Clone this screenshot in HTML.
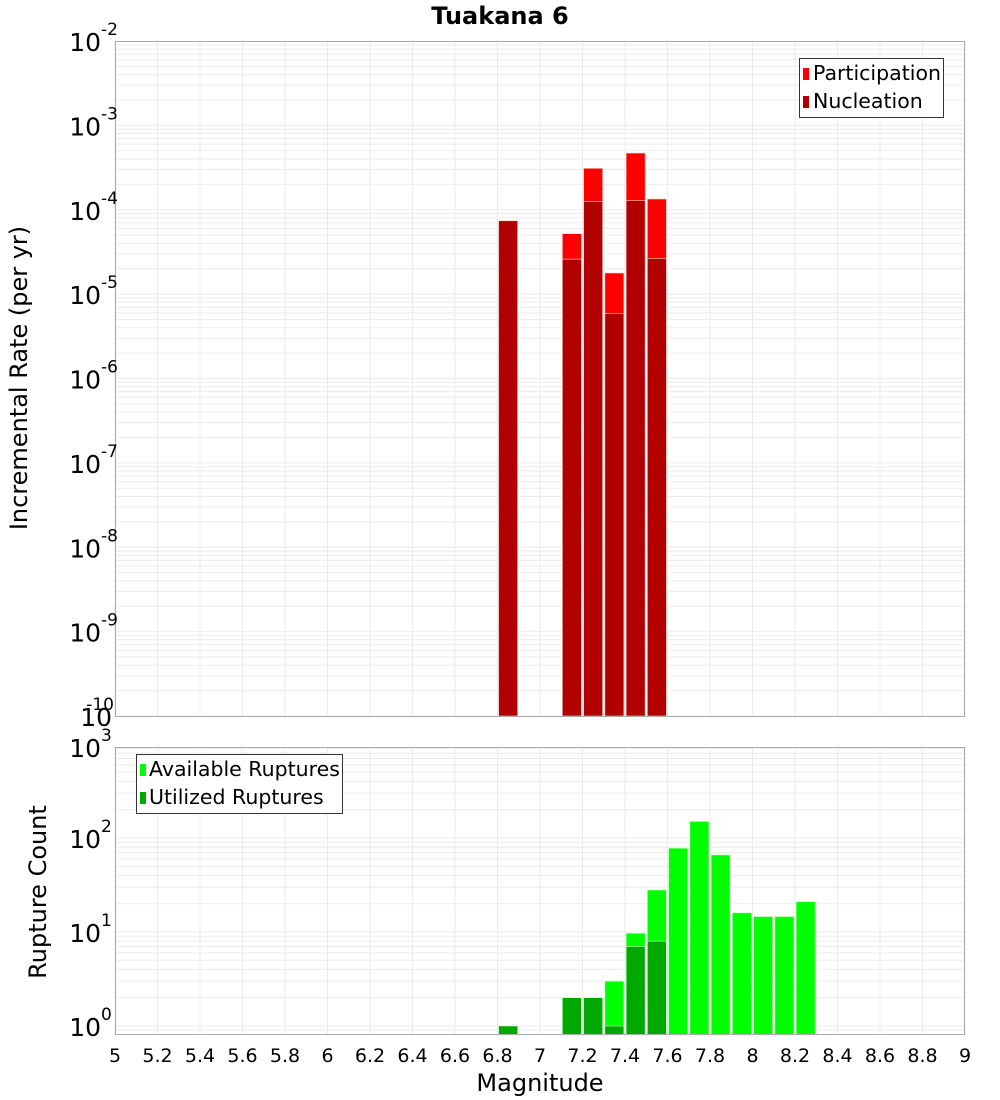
<!DOCTYPE html>
<html><head><meta charset="utf-8"><style>
html,body{margin:0;padding:0;background:#fff;width:1000px;height:1100px;overflow:hidden}
svg{display:block;font-family:"DejaVu Sans","Liberation Sans",sans-serif}
</style></head><body>
<svg id="chart" width="1000" height="1100" viewBox="0 0 1000 1100">
<text x="500" y="24" text-anchor="middle" font-size="24" font-weight="bold">Tuakana 6</text>
<text transform="translate(27,378) rotate(-90)" text-anchor="middle" font-size="24">Incremental Rate (per yr)</text>
<text transform="translate(46,892) rotate(-90)" text-anchor="middle" font-size="24">Rupture Count</text>
<text x="540" y="1091" text-anchor="middle" font-size="24">Magnitude</text>
<g id="top"></g><g id="bot"></g><g id="xt"></g>
<g>
<rect x="799.5" y="58.5" width="144" height="59" fill="#fff" stroke="#333"/>
<rect x="803" y="68" width="6" height="12" fill="#ff0000"/>
<text x="813" y="80" font-size="20.5">Participation</text>
<rect x="803" y="96" width="6" height="12" fill="#b20000"/>
<text x="813" y="108" font-size="20.5">Nucleation</text>
</g>
<g>
<rect x="136.5" y="754.5" width="206" height="59" fill="#fff" stroke="#333"/>
<rect x="140" y="764" width="6" height="12" fill="#00ff00"/>
<text x="149" y="776" font-size="20.5">Available Ruptures</text>
<rect x="140" y="792" width="6" height="12" fill="#00a800"/>
<text x="149" y="804" font-size="20.5">Utilized Ruptures</text>
</g>
</svg>
<script>
const topMags = [6.85, 7.15, 7.25, 7.35, 7.45, 7.55];
const participation = [7.4e-5, 5.2e-5, 3.1e-4, 1.78e-5, 4.7e-4, 1.34e-4];
const nucleation = [7.4e-5, 2.6e-5, 1.25e-4, 5.9e-6, 1.28e-4, 2.65e-5];
const botMags = [6.85, 7.15, 7.25, 7.35, 7.45, 7.55, 7.65, 7.75, 7.85, 7.95, 8.05, 8.15, 8.25];
const available = [1, 2, 2, 3, 9.7, 28, 78, 150, 66, 16, 14.6, 14.6, 21];
const utilized = [1, 2, 2, 1, 7, 8, 0, 0, 0, 0, 0, 0, 0];
const xTicks = [5,5.2,5.4,5.6,5.8,6,6.2,6.4,6.6,6.8,7,7.2,7.4,7.6,7.8,8,8.2,8.4,8.6,8.8,9];
const topExps = [-2,-3,-4,-5,-6,-7,-8,-9,-10];
const botExps = [0,1,2,3];

const NS='http://www.w3.org/2000/svg';
const L=115,R=965;
const xs=m=>L+(m-5)*(R-L)/4;
const yTop=v=>41+84.375*(-2-Math.log10(v));
const yBot=v=>1026-94*Math.log10(v);
function mk(p,t,a){const e=document.createElementNS(NS,t);for(const k in a)e.setAttribute(k,a[k]);p.appendChild(e);return e;}

function panel(g,y0,y1,yf,lo,hi,name){
  const bg=mk(g,'rect',{x:L,y:y0,width:R-L,height:y1-y0,fill:'#fff'});
  
  
  for(let d=lo;d<hi;d++)for(let k=1;k<10;k++){const y=yf(k*Math.pow(10,d));if(y<y0||y>y1)continue;
    const ln=mk(g,'line',{x1:L,x2:R,y1:y,y2:y,stroke:'#ebebeb','stroke-width':1});
    
    }
  xTicks.forEach(t=>{const x=xs(t);
    const ln=mk(g,'line',{x1:x,x2:x,y1:y0,y2:y1,stroke:'#ebebeb','stroke-width':1});
    
    });
}
const gt=document.getElementById('top'), gb=document.getElementById('bot');
panel(gt,41,716,yTop,-10,-2,'top');
panel(gb,747,1035,yBot,-1,3,'bottom');
const bw=19;
function bars(g,mags,vals,yf,base,color,nm){
  mags.forEach((m,i)=>{if(!vals[i])return;const y=yf(vals[i]);
    const r=mk(g,'rect',{x:xs(m)-bw/2,y:y,width:bw,height:base-y,fill:color,stroke:'#ffd0d0','stroke-width':0.6});
    if(nm.indexOf('rupt')>=0)r.setAttribute('stroke','#c8ffc8');
    
    });
}
bars(gt,topMags,participation,yTop,716,'#ff0000','participation');
bars(gt,topMags,nucleation,yTop,716,'#b20000','nucleation');
bars(gb,botMags,available,yBot,1035,'#00ff00','available-rupt');
bars(gb,botMags,utilized,yBot,1035,'#00a800','utilized-rupt');
mk(gt,'rect',{x:L+0.5,y:41.5,width:R-L-1,height:675,fill:'none',stroke:'#aaa'});
mk(gb,'rect',{x:L+0.5,y:747.5,width:R-L-1,height:287,fill:'none',stroke:'#aaa'});

function ylab(g,e,y,name,end){
  const t=mk(g,'text',{x:end,y:y+10,'font-size':25,'text-anchor':'end'});t.textContent='10';
  
  
  const s=mk(g,'text',{x:end,y:y-6,'font-size':17});s.textContent=String(e);
  if(e===-10){s.setAttribute('x',114);s.setAttribute('text-anchor','end');t.setAttribute('x',112);}
  
  
}
topExps.forEach(e=>ylab(gt,e,yTop(Math.pow(10,e)),'top-y',101));
botExps.forEach(e=>{let y=yBot(Math.pow(10,e));if(e===3)y=747;ylab(gb,e,y,'bottom-y',101);});
const gx=document.getElementById('xt');
xTicks.forEach(t=>{const e=mk(gx,'text',{x:xs(t),y:1062,'font-size':19,'text-anchor':'middle'});
  e.textContent=String(t);
  
  });
</script>
</body></html>
